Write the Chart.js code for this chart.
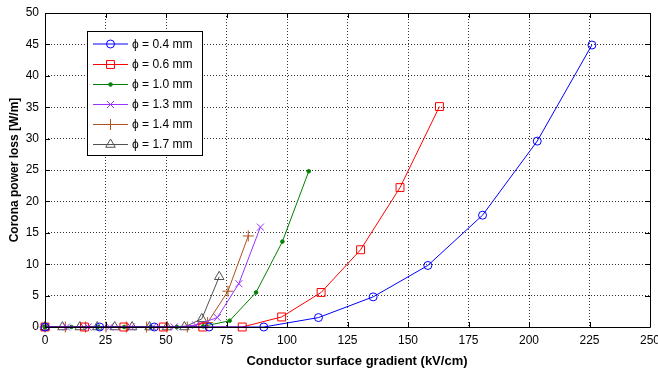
<!DOCTYPE html>
<html><head><meta charset="utf-8">
<script src="https://cdn.jsdelivr.net/npm/chart.js@4.4.1/dist/chart.umd.min.js"></script>
<style>html,body{margin:0;padding:0;background:#fff;}#wrap{width:658px;height:369px;position:relative;}</style>
</head><body><div id="wrap"><canvas id="c"></canvas></div>
<script>
// ---- data ----
const seriesNames = ['\u03d5 = 0.4 mm', '\u03d5 = 0.6 mm', '\u03d5 = 1.0 mm', '\u03d5 = 1.3 mm', '\u03d5 = 1.4 mm', '\u03d5 = 1.7 mm'];
const grad04 = [0, 22.6, 45.2, 67.8, 90.4, 113, 135.6, 158.2, 180.8, 203.4, 226];
const loss04 = [0, 0, 0, 0, 0, 1.5, 4.8, 9.8, 17.8, 29.6, 44.9];
const grad06 = [0, 16.3, 32.6, 48.9, 65.2, 81.5, 97.8, 114.1, 130.4, 146.7, 163];
const loss06 = [0, 0, 0, 0, 0, 0, 1.6, 5.5, 12.3, 22.2, 35.1];
const grad10 = [0, 10.9, 21.8, 32.7, 43.6, 54.5, 65.4, 76.3, 87.2, 98.1, 109];
const loss10 = [0, 0, 0, 0, 0, 0, 0.1, 1.0, 5.5, 13.6, 24.8];
const grad13 = [0, 8.9, 17.8, 26.7, 35.6, 44.5, 53.4, 62.3, 71.2, 80.1, 89];
const loss13 = [0, 0, 0, 0, 0, 0, 0, 0.3, 1.5, 6.9, 15.9];
const grad14 = [0, 8.4, 16.8, 25.2, 33.6, 42, 50.4, 58.8, 67.2, 75.6, 84];
const loss14 = [0, 0, 0, 0, 0, 0, 0, 0, 0.7, 5.7, 14.5];
const grad17 = [0, 7.2, 14.4, 21.6, 28.8, 36, 43.2, 50.4, 57.6, 64.8, 72];
const loss17 = [0, 0, 0, 0, 0, 0, 0, 0, 0, 1.3, 8.0];
const xTicks = [0, 25, 50, 75, 100, 125, 150, 175, 200, 225, 250];
const yTicks = [0, 5, 10, 15, 20, 25, 30, 35, 40, 45, 50];
const xTitle = 'Conductor surface gradient (kV/cm)';
const yTitle = 'Corona power loss [W/m]';

// ---- styles ----
const styles = [
  {color: '#0000ff', pointStyle: 'circle', radius: 4, fill: false},
  {color: '#ff0000', pointStyle: 'rect', radius: 5.6, fill: false},
  {color: '#008000', pointStyle: 'circle', radius: 1.8, fill: true},
  {color: '#9933ff', pointStyle: 'crossRot', radius: 5, fill: false},
  {color: '#b0501a', pointStyle: 'cross', radius: 5.5, fill: false},
  {color: '#505050', pointStyle: 'triangle', radius: 5.5, fill: false}
];
const gradsAll = [grad04, grad06, grad10, grad13, grad14, grad17];
const lossAll = [loss04, loss06, loss10, loss13, loss14, loss17];

const datasets = seriesNames.map((name, i) => ({
  label: name,
  data: gradsAll[i].map((g, k) => ({x: g, y: lossAll[i][k]})),
  showLine: true,
  borderColor: styles[i].color,
  backgroundColor: styles[i].fill ? styles[i].color : 'rgba(0,0,0,0)',
  pointBorderColor: styles[i].color,
  pointBackgroundColor: styles[i].fill ? styles[i].color : 'rgba(0,0,0,0)',
  pointStyle: styles[i].pointStyle,
  pointRadius: styles[i].radius,
  pointHoverRadius: styles[i].radius,
  pointBorderWidth: 1,
  borderWidth: 1,
  tension: 0,
  clip: false
}));

const FONT = 'Liberation Sans, Arial, Helvetica, sans-serif';

const framePlugin = {
  id: 'frame',
  afterDatasetsDraw(chart) {
    const {ctx, chartArea: a, scales: {x, y}} = chart;
    ctx.save();
    ctx.strokeStyle = '#000';
    ctx.lineWidth = 1;
    ctx.beginPath();
    ctx.moveTo(Math.round(a.left) + 0.5, Math.round(a.top) + 0.5);
    ctx.lineTo(Math.round(a.right) + 0.5, Math.round(a.top) + 0.5);
    ctx.lineTo(Math.round(a.right) + 0.5, Math.round(a.bottom) + 0.5);
    ctx.moveTo(Math.round(a.left) + 0.5, Math.round(a.top) + 0.5);
    ctx.lineTo(Math.round(a.left) + 0.5, Math.round(a.bottom) + 0.5);
    ctx.lineTo(Math.round(a.right) + 0.5, Math.round(a.bottom) + 0.5);
    const tl = 5;
    xTicks.forEach(v => {
      const px = Math.round(x.getPixelForValue(v)) + 0.5;
      ctx.moveTo(px, a.bottom); ctx.lineTo(px, a.bottom - tl);
      ctx.moveTo(px, a.top); ctx.lineTo(px, a.top + tl);
    });
    yTicks.forEach(v => {
      const py = Math.round(y.getPixelForValue(v)) + 0.5;
      ctx.moveTo(a.left, py); ctx.lineTo(a.left + tl, py);
      ctx.moveTo(a.right, py); ctx.lineTo(a.right - tl, py);
    });
    ctx.stroke();
    ctx.restore();
  },
  afterDraw(chart) {
    const ctx = chart.ctx;
    ctx.save();
    // x-axis title
    ctx.font = 'bold 13px ' + FONT;
    ctx.fillStyle = '#000';
    ctx.textAlign = 'center';
    ctx.textBaseline = 'middle';
    ctx.fillText(xTitle, 357, 361);
    // legend box
    const bx = 87.5, by = 31.5, bw = 115, bh = 124;
    ctx.fillStyle = '#fff';
    ctx.fillRect(bx, by, bw, bh);
    ctx.strokeStyle = '#000';
    ctx.lineWidth = 1;
    ctx.strokeRect(bx, by, bw, bh);
    const rowY = [43.5, 64, 84, 104, 124, 144];
    ctx.font = '12px ' + FONT;
    ctx.textBaseline = 'middle';
    ctx.textAlign = 'left';
    chart.data.datasets.forEach((ds, i) => {
      const yy = rowY[i] + 0.5;
      ctx.strokeStyle = ds.borderColor;
      ctx.lineWidth = 1;
      ctx.beginPath();
      ctx.moveTo(93, yy); ctx.lineTo(128, yy);
      ctx.stroke();
      ctx.fillStyle = ds.pointBackgroundColor;
      ctx.strokeStyle = ds.pointBorderColor;
      Chart.helpers.drawPoint(ctx, {pointStyle: ds.pointStyle, radius: ds.pointRadius, rotation: 0, borderWidth: 1}, 110.5, yy);
      ctx.fillStyle = '#000';
      ctx.fillText(ds.label, 132, rowY[i] + 1);
    });
    ctx.restore();
  }
};

new Chart(document.getElementById('c'), {
  type: 'scatter',
  data: {datasets},
  options: {
    responsive: true,
    maintainAspectRatio: false,
    animation: false,
    events: [],
    layout: {padding: {left: 0, right: 8, top: 13, bottom: 0}},
    plugins: {legend: {display: false}, tooltip: {enabled: false}},
    scales: {
      x: {
        type: 'linear', min: 0, max: 250,
        afterBuildTicks: s => { s.ticks = xTicks.map(v => ({value: v})); },
        afterFit: s => { s.height = 42; s.paddingLeft = 0; s.paddingRight = 0; },
        ticks: {font: {family: FONT, size: 12}, color: '#000', padding: 6, maxRotation: 0, autoSkip: false},
        grid: {
          drawTicks: false,
          color: c => (c.tick && (c.tick.value === 0 || c.tick.value === 250)) ? 'rgba(0,0,0,0)' : 'rgba(0,0,0,0.8)',
          lineWidth: 1
        },
        border: {display: false, dash: [1, 2]},
        title: {display: false, text: xTitle}
      },
      y: {
        type: 'linear', min: 0, max: 50,
        afterBuildTicks: s => { s.ticks = yTicks.map(v => ({value: v})); },
        afterFit: s => { s.width = 45; s.paddingTop = 0; s.paddingBottom = 0; },
        ticks: {font: {family: FONT, size: 12}, color: '#000', padding: 6, autoSkip: false},
        grid: {
          drawTicks: false,
          color: c => (c.tick && (c.tick.value === 0 || c.tick.value === 50)) ? 'rgba(0,0,0,0)' : 'rgba(0,0,0,0.8)',
          lineWidth: 1
        },
        border: {display: false, dash: [1, 2]},
        title: {display: true, text: yTitle, font: {family: FONT, size: 12, weight: 'bold'}, color: '#000', padding: {top: 7, bottom: 0}}
      }
    }
  },
  plugins: [framePlugin]
});
</script>
</body></html>
